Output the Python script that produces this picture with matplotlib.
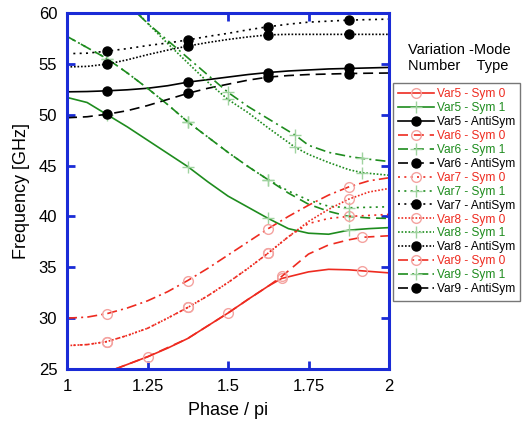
import matplotlib
matplotlib.use("Agg")
import matplotlib.pyplot as plt

plt.rcParams['font.family'] = ['Liberation Sans', 'DejaVu Sans']

# Phase grid (units of pi) shared by most branches
PHASE = [1.0, 1.0625, 1.125, 1.1875, 1.25, 1.3125, 1.375, 1.4375, 1.5,
         1.5625, 1.625, 1.6875, 1.75, 1.8125, 1.875, 1.9375, 2.0]

# --- Sym 0 branches [GHz]
var5_sym0_x = [1.15, 1.1875, 1.25, 1.3125, 1.375, 1.4375, 1.5, 1.5625, 1.625,
               1.6667, 1.75, 1.8125, 1.875, 1.9167, 2.0]
var5_sym0 = [25.0, 25.45, 26.2, 27.05, 28.0, 29.25, 30.5, 31.85, 33.15,
             33.9, 34.55, 34.8, 34.75, 34.65, 34.45]
var6_sym0_x = [1.15, 1.25, 1.375, 1.5, 1.5625, 1.625, 1.6667, 1.75, 1.8125,
               1.875, 1.9167, 2.0]
var6_sym0 = [25.0, 26.2, 28.0, 30.5, 31.85, 33.15, 34.1, 36.3, 37.2,
             37.7, 37.95, 38.1]
var7_sym0 = [27.3, 27.4, 27.7, 28.3, 29.0, 30.0, 31.05, 32.2, 33.5,
             34.9, 36.4, 38.0, 39.3, 39.8, 40.0, 40.1, 40.2]
var8_sym0 = [27.3, 27.4, 27.7, 28.3, 29.0, 30.0, 31.05, 32.2, 33.5,
             34.9, 36.4, 38.0, 39.5, 40.7, 41.7, 42.4, 42.75]
var9_sym0 = [30.0, 30.1, 30.45, 31.0, 31.7, 32.6, 33.7, 34.9, 36.2,
             37.5, 38.8, 40.0, 41.1, 42.1, 42.9, 43.5, 43.8]

# --- Sym 1 branches [GHz]
var5_sym1 = [51.7, 51.2, 50.0, 48.8, 47.5, 46.2, 44.9, 43.4, 42.0,
             40.9, 39.8, 38.8, 38.35, 38.25, 38.65, 38.8, 38.9]
var6_sym1 = [57.7, 56.6, 55.5, 54.1, 52.6, 51.0, 49.3, 47.8, 46.3,
             44.9, 43.6, 42.3, 41.2, 40.5, 40.0, 39.85, 39.8]
var7_sym1 = [57.7, 56.6, 55.5, 54.1, 52.6, 51.0, 49.3, 47.8, 46.3,
             44.9, 43.6, 42.5, 41.6, 41.0, 40.85, 40.9, 40.95]
var8_sym1_x = [1.22, 1.25, 1.3125, 1.375, 1.4375, 1.5, 1.5625, 1.625,
               1.7083, 1.75, 1.8125, 1.875, 1.9167, 2.0]
var8_sym1 = [60.0, 59.0, 57.0, 55.1, 53.2, 51.5, 50.2, 48.7,
             46.8, 46.1, 45.3, 44.6, 44.3, 44.05]
var9_sym1_x = [1.22, 1.25, 1.3125, 1.375, 1.4375, 1.5, 1.5625, 1.625,
               1.7083, 1.75, 1.8125, 1.875, 1.9167, 2.0]
var9_sym1 = [59.9, 59.0, 57.3, 55.6, 53.9, 52.2, 50.8, 49.6,
             48.0, 47.0, 46.3, 45.9, 45.7, 45.4]

# --- AntiSym branches [GHz]
var5_anti = [52.25, 52.28, 52.35, 52.45, 52.6, 52.85, 53.2, 53.45, 53.7,
             53.95, 54.15, 54.3, 54.4, 54.5, 54.55, 54.6, 54.65]
var6_anti = [49.7, 49.8, 50.05, 50.4, 50.9, 51.5, 52.1, 52.6, 53.0,
             53.4, 53.7, 53.85, 53.95, 54.0, 54.05, 54.08, 54.1]
var7_anti = [56.0, 56.05, 56.25, 56.5, 56.8, 57.05, 57.35, 57.7, 58.0,
             58.35, 58.65, 58.9, 59.1, 59.2, 59.3, 59.35, 59.4]
var8_anti = [54.7, 54.75, 54.98, 55.4, 55.9, 56.35, 56.75, 57.1, 57.4,
             57.65, 57.85, 57.9, 57.9, 57.9, 57.9, 57.9, 57.9]
var9_anti = []

RED = '#ee2b20'
GREEN = '#1e8c1e'
BLACK = '#000000'
RED_M = '#f4a3a0'
GREEN_M = '#9fd39f'

STYLES = {
    'Var5': '-',
    'Var6': (0, (6, 3.5)),
    'Var7': (0, (1.2, 2.6)),
    'Var8': (0, (1.0, 1.1)),
    'Var9': (0, (6, 2.5, 1.2, 2.5)),
}

MARK_STD = [2, 6, 10, 14]

series = [
    ('Var5', 'Sym 0', var5_sym0_x, var5_sym0, [2, 6, 9, 13]),
    ('Var5', 'Sym 1', PHASE, var5_sym1, MARK_STD),
    ('Var5', 'AntiSym', PHASE, var5_anti, MARK_STD),
    ('Var6', 'Sym 0', var6_sym0_x, var6_sym0, [6, 10]),
    ('Var6', 'Sym 1', PHASE, var6_sym1, MARK_STD),
    ('Var6', 'AntiSym', PHASE, var6_anti, MARK_STD),
    ('Var7', 'Sym 0', PHASE, var7_sym0, MARK_STD),
    ('Var7', 'Sym 1', PHASE, var7_sym1, MARK_STD),
    ('Var7', 'AntiSym', PHASE, var7_anti, MARK_STD),
    ('Var8', 'Sym 0', PHASE, var8_sym0, MARK_STD),
    ('Var8', 'Sym 1', var8_sym1_x, var8_sym1, [5, 8, 12]),
    ('Var8', 'AntiSym', PHASE, var8_anti, MARK_STD),
    ('Var9', 'Sym 0', PHASE, var9_sym0, MARK_STD),
    ('Var9', 'Sym 1', var9_sym1_x, var9_sym1, [5, 8, 12]),
    ('Var9', 'AntiSym', PHASE[:len(var9_anti)], var9_anti, MARK_STD),
]

fig = plt.figure(figsize=(5.22, 4.26), dpi=100)
ax = fig.add_axes([67 / 522, 1 - 369 / 426, (389 - 67) / 522, (369 - 13) / 426])

handles = []
for var, mode, xs, ys, marks in series:
    ls = STYLES[var]
    if mode == 'Sym 0':
        col, kw = RED, dict(marker='o', mfc='none', mec=RED_M, ms=7, mew=1.0)
    elif mode == 'Sym 1':
        col, kw = GREEN, dict(marker='+', mec=GREEN_M, ms=8, mew=1.0)
    else:
        col, kw = BLACK, dict(marker='o', mfc=BLACK, mec=BLACK, ms=6.5)
    marks = [m for m in marks if m < len(xs)]
    h, = ax.plot(xs, ys, color=col, ls=ls, lw=1.2, markevery=marks,
                 label=f'{var} - {mode}', clip_on=True, **kw)
    handles.append(h)

ax.set_xlim(1, 2)
ax.set_ylim(25, 60)
ax.set_xticks([1, 1.25, 1.5, 1.75, 2])
ax.set_xticklabels(['1', '1.25', '1.5', '1.75', '2'])
ax.set_yticks([25, 30, 35, 40, 45, 50, 55, 60])

BLUE = '#1a2bd6'
for sp in ax.spines.values():
    sp.set_color(BLUE)
    sp.set_linewidth(2.2)
ax.tick_params(direction='in', length=6, width=2, color=BLUE, labelsize=12,
               top=True, right=True, pad=7)
ax.set_xlabel('Phase / pi', fontsize=13, labelpad=6)
ax.set_ylabel('Frequency [GHz]', fontsize=13, labelpad=6)

leg = fig.legend(handles=handles, loc='upper left',
                 bbox_to_anchor=(393 / 522, 1 - 83 / 426),
                 fontsize=8.6, handlelength=3.0, handletextpad=0.2,
                 labelspacing=0.16, borderpad=0.45, borderaxespad=0,
                 frameon=True, fancybox=False, edgecolor='#555555')
leg.get_frame().set_linewidth(1.0)
for txt, (_, mode, *_r) in zip(leg.get_texts(), series):
    txt.set_color(RED if mode == 'Sym 0' else GREEN if mode == 'Sym 1' else BLACK)

fig.text(408 / 522, 1 - 50 / 426, 'Variation -Mode', fontsize=10.5, va='center')
fig.text(408 / 522, 1 - 66 / 426, 'Number    Type', fontsize=10.5, va='center')

fig.savefig('out.png', dpi=100)
